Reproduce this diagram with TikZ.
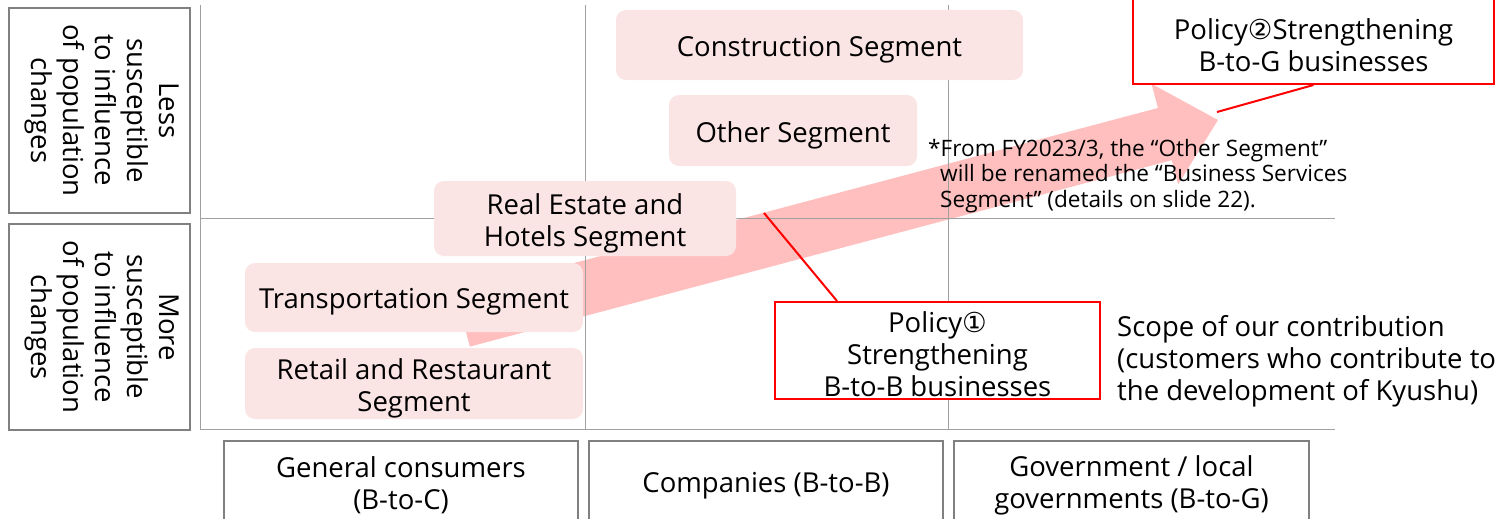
\documentclass[tikz,border=0pt]{standalone}
\usepackage{fontspec}
\setmainfont{Open Sans}
\newfontfamily\symfont{DejaVu Sans}
\definecolor{segfill}{HTML}{FBE4E4}
\definecolor{arrowpink}{HTML}{FFBFBF}
\definecolor{gridgray}{HTML}{A0A0A0}
\definecolor{boxgray}{HTML}{808080}
\definecolor{polred}{HTML}{FF0000}
\newcommand{\mainsz}{\fontsize{27.5pt}{32pt}\selectfont}
\newcommand{\notesz}{\fontsize{22.6pt}{25.5pt}\selectfont}
\tikzset{
  seg/.style={fill=segfill, rounded corners=10pt, inner sep=0pt},
  gridline/.style={draw=gridgray, line width=1pt},
  sidebox/.style={draw=boxgray, line width=1.6pt, fill=white, inner sep=0pt},
  custbox/.style={draw=boxgray, line width=1.6pt, fill=white, inner sep=0pt},
  policy/.style={draw=polred, line width=2pt, fill=white, inner sep=0pt},
  redline/.style={draw=polred, line width=2pt},
  txt/.style={inner sep=0pt, align=center, font=\mainsz, yshift=-4.5pt},
  sidetxt/.style={inner sep=0pt, align=center, font=\mainsz, rotate=-90},
  plain/.style={inner sep=0pt, align=left}
}
\begin{document}
\begin{tikzpicture}[x=1pt,y=-1pt]
\useasboundingbox (0,0) rectangle (1504,519);
\clip (0,0) rectangle (1504,519);
% big arrow
\fill[arrowpink] (469.9,346.6) -- (456.1,294.4) -- (1157.9,108.0) -- (1151.5,83.8) -- (1218,120) -- (1178.1,184.4) -- (1171.7,160.2) -- cycle;
% grid
\draw[gridline] (200,5) -- (200,429);
\draw[gridline] (585,5) -- (585,429);
\draw[gridline] (948,5) -- (948,429);
\draw[gridline] (200,218) -- (1335,218);
\draw[gridline] (200,429) -- (1335,429);
% side boxes
\node[sidebox, minimum width=181pt, minimum height=205pt] (less) at (99.5,110.5) {};
\node[sidetxt] (less-t) at ([xshift=3pt]less.center) {Less\\susceptible\\to influence\\of population\\changes};
\node[sidebox, minimum width=181pt, minimum height=206pt] (more) at (99.5,327) {};
\node[sidetxt] (more-t) at ([xshift=3pt]more.center) {More\\susceptible\\to influence\\of population\\changes};
% customer boxes
\node[custbox, minimum width=354pt, minimum height=84pt] (btoc) at (401,483) {};
\node[txt, yshift=2pt] (btoc-t) at (btoc.center) {General consumers\\(B-to-C)};
\node[custbox, minimum width=354pt, minimum height=84pt] (btob) at (766,483) {};
\node[txt, yshift=2pt] (btob-t) at (btob.center) {Companies (B-to-B)};
\node[custbox, minimum width=355pt, minimum height=84pt] (btog) at (1131.5,483) {};
\node[txt, yshift=2pt] (btog-t) at (btog.center) {Government / local\\governments (B-to-G)};
% segments
\node[seg, minimum width=407pt, minimum height=70pt] (cons) at (819.5,45) {};
\node[txt] (cons-t) at (cons.center) {Construction Segment};
\node[seg, minimum width=248pt, minimum height=71pt] (other) at (793,130.5) {};
\node[txt] (other-t) at (other.center) {Other Segment};
\node[seg, minimum width=302pt, minimum height=75pt] (real) at (585,218.5) {};
\node[txt] (real-t) at (real.center) {Real Estate and\\Hotels Segment};
\node[seg, minimum width=338pt, minimum height=69pt] (trans) at (414,297.5) {};
\node[txt] (trans-t) at (trans.center) {Transportation Segment};
\node[seg, minimum width=338pt, minimum height=71pt] (retail) at (414,383.5) {};
\node[txt] (retail-t) at (retail.center) {Retail and Restaurant\\Segment};
% note
\node[plain, anchor=north west, font=\notesz] (note) at (928,139) {*From FY2023/3, the “Other Segment”\\\hspace*{12pt}will be renamed the “Business Services\\\hspace*{12pt}Segment” (details on slide 22).};
% policies
\node[policy, minimum width=325pt, minimum height=97pt] (p1) at (937.5,350.5) {};
\node[txt, yshift=1pt] (p1-t) at (p1.center) {Policy{\symfont ①}\\Strengthening\\B-to-B businesses};
\node[policy, minimum width=361pt, minimum height=89pt] (p2) at (1313.5,39.5) {};
\node[txt, yshift=1pt] (p2-t) at (1313.5,42) {Policy{\symfont ②}Strengthening\\B-to-G businesses};
\coordinate (c1) at (764,213);
\coordinate (c2) at (1217,112);
\draw[redline] (c1) -- ([xshift=63pt]p1.north west);
\draw[redline] (p2.south) -- (c2);
% scope
\node[plain, anchor=west, font=\mainsz, yshift=-4pt] (scope) at (1117,357) {Scope of our contribution\\(customers who contribute to\\the development of Kyushu)};
\end{tikzpicture}
\end{document}
